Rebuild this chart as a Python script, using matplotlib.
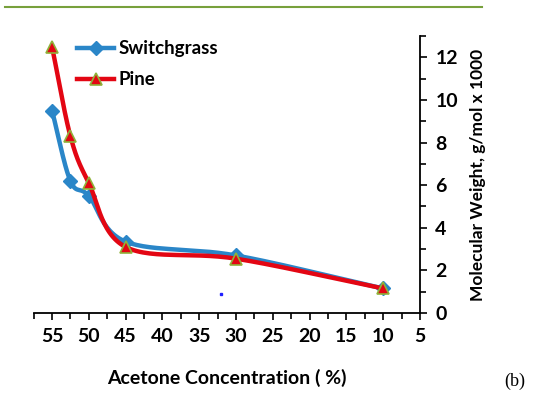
import matplotlib
matplotlib.use("Agg")
import matplotlib.pyplot as plt
from matplotlib.ticker import MultipleLocator
import numpy as np

# data
acetone = [55, 52.5, 50, 45, 30, 10]
switchgrass = [9.5, 6.2, 5.5, 3.35, 2.7, 1.15]
pine = [12.5, 8.3, 6.1, 3.1, 2.55, 1.15]
stray_x, stray_y = [32], [0.9]

x_ticks = [55, 50, 45, 40, 35, 30, 25, 20, 15, 10, 5]
y_ticks = [0, 2, 4, 6, 8, 10, 12]

plt.rcParams['font.family'] = ['Lato', 'DejaVu Sans']


def smooth(xs, ys, n=30):
    # Catmull-Rom curve through the points, like the spreadsheet "smoothed line"
    xs, ys = np.array(xs, float), np.array(ys, float)
    px = np.concatenate([[2 * xs[0] - xs[1]], xs, [2 * xs[-1] - xs[-2]]])
    py = np.concatenate([[2 * ys[0] - ys[1]], ys, [2 * ys[-1] - ys[-2]]])
    out_x, out_y = [], []
    t = np.linspace(0, 1, n)
    for i in range(1, len(px) - 2):
        for p, out in ((px, out_x), (py, out_y)):
            p0, p1, p2, p3 = p[i - 1], p[i], p[i + 1], p[i + 2]
            seg = 0.5 * ((2 * p1) + (-p0 + p2) * t + (2 * p0 - 5 * p1 + 4 * p2 - p3) * t ** 2
                         + (-p0 + 3 * p1 - 3 * p2 + p3) * t ** 3)
            out.extend(seg)
    return np.array(out_x), np.array(out_y)


fig = plt.figure(figsize=(5.46, 3.95), dpi=100)
ax = fig.add_axes([33.6 / 546, 82 / 395, (420 - 33.6) / 546, (313 - 36) / 395])

blue = '#2a86c8'
red = '#e30613'
green = '#8fb23a'

sx, sy = smooth(acetone, switchgrass)
ax.plot(sx, sy, color=blue, lw=3.2, solid_capstyle='round', zorder=2)
ax.plot(acetone, switchgrass, 'D', color=blue, ms=7, zorder=3)
px_, py_ = smooth(acetone, pine)
ax.plot(px_, py_, color=red, lw=3.2, solid_capstyle='round', zorder=4)
ax.plot(acetone, pine, '^', color=red, mec=green, mew=1.2, ms=9, zorder=5)
ax.plot(stray_x, stray_y, 's', color='#2020ff', ms=1.5)

# legend proxies
ax.plot([], [], color=blue, lw=3.2, marker='D', ms=7, label='Switchgrass')
ax.plot([], [], color=red, lw=3.2, marker='^', ms=9, mec=green, mew=1.2, label='Pine')
h, l = ax.get_legend_handles_labels()
ax.legend(h[-2:], l[-2:], loc='upper left', bbox_to_anchor=(0.112, 0.985), frameon=False,
          prop={'weight': 'bold', 'size': 13.5}, handlelength=2.0, handletextpad=0.2,
          labelspacing=0.75, borderaxespad=0, borderpad=0)

ax.set_xlim(57.5, 5)
ax.set_ylim(0, 13)
ax.set_xticks(x_ticks)
ax.set_yticks(y_ticks)
ax.xaxis.set_minor_locator(MultipleLocator(2.5))
ax.yaxis.set_minor_locator(MultipleLocator(1))
ax.yaxis.tick_right()
ax.yaxis.set_label_position('right')
ax.spines['left'].set_visible(False)
ax.spines['top'].set_visible(False)
for s in ('bottom', 'right'):
    ax.spines[s].set_linewidth(1.3)
ax.tick_params(which='both', direction='out', width=1.2, labelsize=14)
ax.tick_params(which='major', length=5, pad=6)
ax.tick_params(which='minor', length=4)
for lab in ax.get_xticklabels() + ax.get_yticklabels():
    lab.set_fontweight('bold')

ax.set_xlabel('Acetone Concentration ( %)', fontsize=14, fontweight='bold', labelpad=17)
ax.set_ylabel('Molecular Weight, g/mol x 1000', fontsize=12.5, fontweight='bold', labelpad=9)

# green rule at the top and panel tag
fig.add_artist(plt.Line2D([5 / 546, 482 / 546], [1 - 7 / 395, 1 - 7 / 395],
                          color='#77a03c', lw=1.5))
fig.text(515 / 546, 1 - 381 / 395, '(b)', family='Liberation Serif', fontsize=13,
         ha='center', va='center')

fig.savefig('out.png', dpi=100)
